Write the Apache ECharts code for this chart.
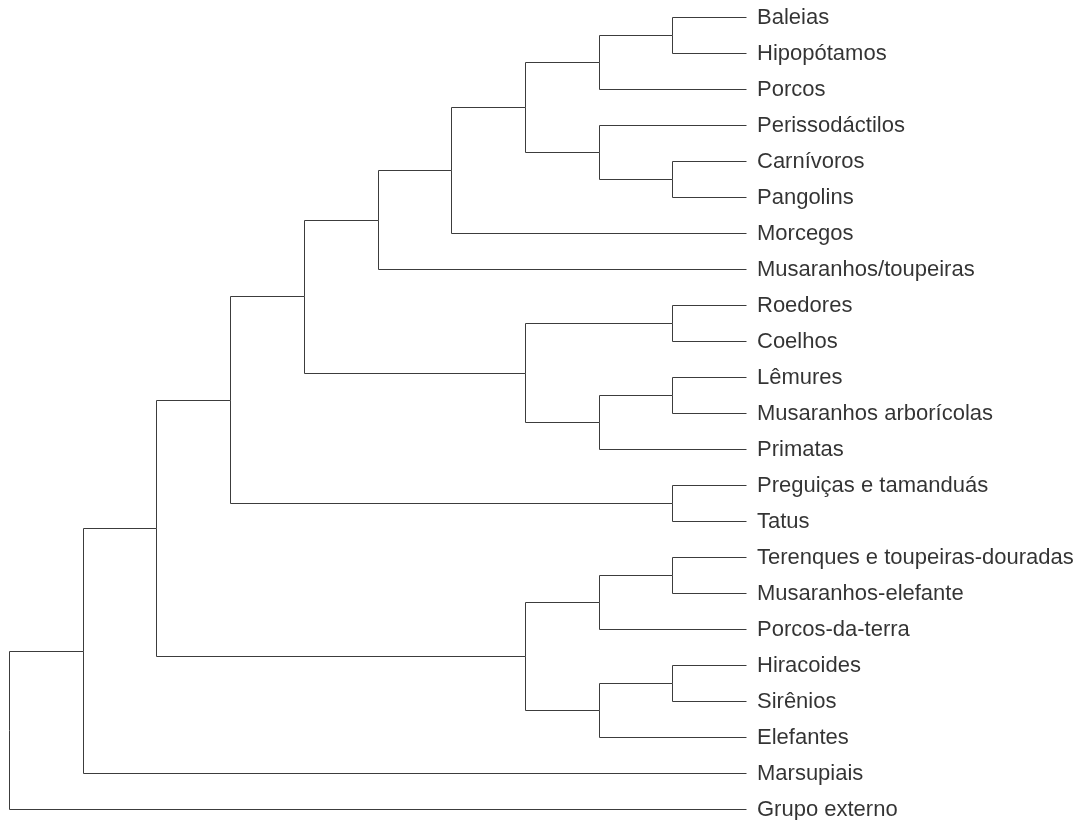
<!DOCTYPE html>
<html>
<head>
<meta charset="utf-8">
<script src="https://cdn.jsdelivr.net/npm/echarts@6/dist/echarts.min.js"></script>
<style>
  html, body { margin: 0; padding: 0; background: #ffffff; }
  #chart { width: 1083px; height: 820px; }
</style>
</head>
<body>
<div id="chart"></div>
<script>
// Leaf (tip) names, top to bottom
const leafNames = [
  'Baleias', 'Hipopótamos', 'Porcos', 'Perissodáctilos', 'Carnívoros',
  'Pangolins', 'Morcegos', 'Musaranhos/toupeiras', 'Roedores', 'Coelhos',
  'Lêmures', 'Musaranhos arborícolas', 'Primatas', 'Preguiças e tamanduás',
  'Tatus', 'Terenques e toupeiras-douradas', 'Musaranhos-elefante',
  'Porcos-da-terra', 'Hiracoides', 'Sirênios', 'Elefantes', 'Marsupiais',
  'Grupo externo'
];

// Tree topology (numbers are indices into leafNames)
const laurasiatheria = [[[[[0, 1], 2], [3, [4, 5]]], 6], 7];
const euarchontoglires = [[8, 9], [[10, 11], 12]];
const xenarthra = [13, 14];
const afrotheria = [[[15, 16], 17], [[18, 19], 20]];
const boreoeutheria = [laurasiatheria, euarchontoglires];
const placentalia = [[boreoeutheria, xenarthra], afrotheria];
const mammalia = [placentalia, 21];
const fullTree = [mammalia, 22];

// Build edges: node x = maxLevel - height, node y = midpoint of first/last child
const edges = [];
function layout(node) {
  if (typeof node === 'number') return { h: 0, y: node };
  const kids = node.map(layout);
  const h = 1 + Math.max(...kids.map(k => k.h));
  const y = (kids[0].y + kids[kids.length - 1].y) / 2;
  kids.forEach(k => edges.push({ ph: h, py: y, ch: k.h, cy: k.y }));
  return { h, y };
}
const rootInfo = layout(fullTree);
const maxLevel = rootInfo.h;
const edgeData = edges.map(e => [maxLevel - e.ph, e.py, e.cy, maxLevel - e.ch]);
const leafData = leafNames.map((n, i) => [maxLevel, i, n]);

function snap(p) { return [Math.round(p[0]) + 0.5, Math.round(p[1]) + 0.5]; }

const chart = echarts.init(document.getElementById('chart'), null, { renderer: 'canvas' });
chart.setOption({
  animation: false,
  backgroundColor: '#ffffff',
  grid: { left: 9, top: 17.3, width: 737, height: 792, containLabel: false },
  xAxis: { type: 'value', min: 0, max: maxLevel, show: false },
  yAxis: { type: 'value', min: 0, max: leafNames.length - 1, inverse: true, show: false },
  series: [
    {
      type: 'custom',
      silent: true,
      clip: false,
      data: edgeData,
      encode: { x: [0, 3], y: [1, 2] },
      renderItem: function (params, api) {
        const px = api.value(0), py = api.value(1), cy = api.value(2), cx = api.value(3);
        const a = snap(api.coord([px, py]));
        const b = snap(api.coord([px, cy]));
        const c = snap(api.coord([cx, cy]));
        return {
          type: 'polyline',
          shape: { points: [a, b, c] },
          style: { stroke: '#3c3c3c', lineWidth: 1, fill: null }
        };
      }
    },
    {
      type: 'scatter',
      silent: true,
      symbolSize: 0,
      data: leafData,
      encode: { x: 0, y: 1 },
      label: {
        show: true,
        position: 'right',
        distance: 11,
        offset: [0, 1],
        formatter: p => p.data[2],
        fontFamily: '"Liberation Sans", Arial, sans-serif',
        fontSize: 22,
        color: '#000000'
      }
    }
  ]
});
</script>
</body>
</html>
